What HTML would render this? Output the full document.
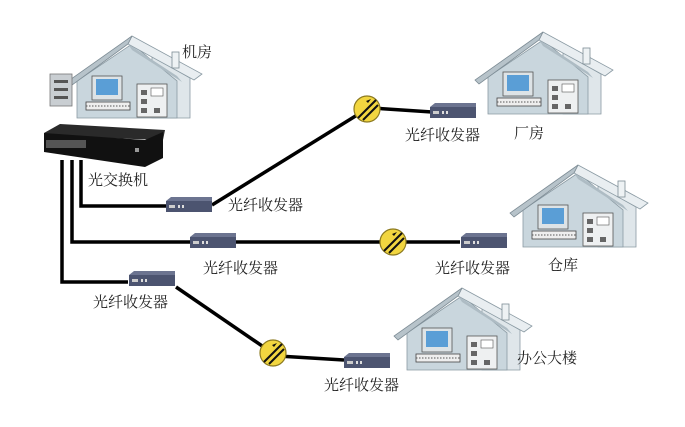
<!DOCTYPE html>
<html><head><meta charset="utf-8"><style>
html,body{margin:0;padding:0;background:#fff;}
svg text{font-family:"Liberation Serif","Noto Serif CJK SC","Noto Sans CJK SC",serif;font-size:15px;fill:#222;}
</style></head><body>
<svg width="685" height="422" viewBox="0 0 685 422" xmlns="http://www.w3.org/2000/svg">
<defs>
<g id="house">
  <!-- side wall -->
  <polygon points="20,20 58,42 58,82 20,82" fill="#dfe6ea" stroke="#8a9aa3" stroke-width="0.8"/>
  <!-- front body -->
  <polygon points="-55,45 0,8 45,45 45,82 -55,82" fill="#c9d6dd" stroke="#8a9aa3" stroke-width="0.8"/>
  <!-- roof side -->
  <polygon points="0,0 70,38 62,44 -4,8" fill="#e9eef1" stroke="#8a9aa3" stroke-width="0.8"/>
  <!-- front gable edge -->
  <polygon points="0,0 -4,8 -64,52 -68,48" fill="#b7c3ca" stroke="#7d8c95" stroke-width="0.8"/>
  <polygon points="-4,8 45,40 50,46 0,14" fill="#aebcc4"/>
  <!-- chimney -->
  <rect x="40" y="16" width="7" height="16" fill="#eef2f4" stroke="#7d8c95" stroke-width="0.8"/>
  <!-- monitor -->
  <rect x="-40" y="40" width="30" height="24" fill="#dde3e6" stroke="#555" stroke-width="0.8"/>
  <rect x="-36" y="43" width="22" height="16" fill="#5a9ed6"/>
  <rect x="-46" y="66" width="44" height="8" fill="#eee" stroke="#444" stroke-width="0.8"/>
  <line x1="-46" y1="70" x2="-2" y2="70" stroke="#555" stroke-dasharray="1.5 1.5"/>
  <!-- cabinet -->
  <rect x="5" y="48" width="30" height="33" fill="#eef0f1" stroke="#555" stroke-width="0.8"/>
  <rect x="9" y="54" width="6" height="5" fill="#666"/><rect x="9" y="63" width="6" height="5" fill="#666"/><rect x="9" y="72" width="6" height="5" fill="#666"/>
  <rect x="19" y="52" width="12" height="8" fill="#fff" stroke="#555" stroke-width="0.6"/>
  <rect x="22" y="72" width="6" height="5" fill="#666"/>
</g>
<g id="tx">
  <polygon points="0,4 5,0 46,0 46,4" fill="#6c7490"/>
  <rect x="0" y="4" width="46" height="11" fill="#4c5470"/>
  <rect x="3" y="8" width="6" height="3" fill="#ccc"/><rect x="12" y="8" width="2" height="3" fill="#ddd"/><rect x="16" y="8" width="2" height="3" fill="#ddd"/>
</g>
<g id="coup">
  <circle r="13" fill="#f2d640" stroke="#8c7a20" stroke-width="1.2"/>
  <line x1="-9" y1="9" x2="9" y2="-9" stroke="#111" stroke-width="2"/>
  <line x1="-4" y1="11" x2="11" y2="-4" stroke="#111" stroke-width="2"/>
  <polygon points="4,-10 -1,-8 1,-6" fill="#111"/>
</g>
</defs>

<!-- lines -->
<g stroke="#000" stroke-width="3.5" fill="none">
  <polyline points="81,160 81,206 166,206"/>
  <polyline points="72,160 72,242 190,242"/>
  <polyline points="62,160 62,282 128,282"/>
  <line x1="212" y1="205" x2="362" y2="112"/>
  <line x1="372" y1="108" x2="432" y2="112"/>
  <line x1="236" y1="242" x2="460" y2="242"/>
  <line x1="176" y1="287" x2="268" y2="350"/>
  <line x1="278" y1="356" x2="344" y2="360"/>
</g>

<!-- houses -->
<use href="#house" x="132" y="36"/>
<use href="#house" x="543" y="32"/>
<use href="#house" x="578" y="165"/>
<use href="#house" x="462" y="288"/>

<!-- server tower -->
<rect x="50" y="74" width="22" height="32" fill="#c9ced2" stroke="#777" stroke-width="0.8"/>
<rect x="54" y="80" width="14" height="3" fill="#555"/><rect x="54" y="88" width="14" height="3" fill="#555"/><rect x="54" y="96" width="14" height="3" fill="#555"/>

<!-- switch -->
<polygon points="44,133 60,124 165,130 163,140 50,136" fill="#2a2a2a"/>
<polygon points="44,133 145,140 163,132 163,158 145,167 44,152" fill="#111"/>
<rect x="46" y="140" width="40" height="8" fill="#555"/>
<rect x="135" y="148" width="4" height="4" fill="#999"/>

<!-- transceivers -->
<use href="#tx" x="166" y="197"/>
<use href="#tx" x="190" y="233"/>
<use href="#tx" x="129" y="271"/>
<use href="#tx" x="430" y="103"/>
<use href="#tx" x="461" y="233"/>
<use href="#tx" x="344" y="353"/>

<!-- couplers -->
<use href="#coup" x="367" y="109"/>
<use href="#coup" x="393" y="242"/>
<use href="#coup" x="273" y="353"/>

<!-- labels -->
<text x="182" y="57">机房</text>
<text x="88" y="185">光交换机</text>
<text x="228" y="210">光纤收发器</text>
<text x="203" y="273">光纤收发器</text>
<text x="93" y="307">光纤收发器</text>
<text x="405" y="140">光纤收发器</text>
<text x="514" y="138">厂房</text>
<text x="435" y="273">光纤收发器</text>
<text x="548" y="270">仓库</text>
<text x="517" y="363">办公大楼</text>
<text x="324" y="390">光纤收发器</text>
</svg>
</body></html>
